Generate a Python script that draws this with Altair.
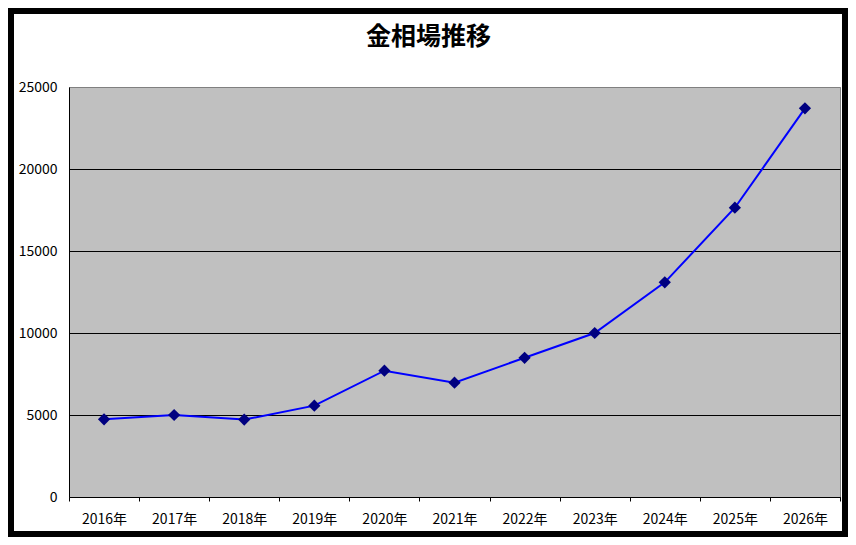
import altair as alt
import pandas as pd

years = ["2016年", "2017年", "2018年", "2019年", "2020年", "2021年",
         "2022年", "2023年", "2024年", "2025年", "2026年"]
prices = [4740, 5000, 4720, 5570, 7700, 6970, 8490, 10000, 13090, 17640, 23700]
y_ticks = [0, 5000, 10000, 15000, 20000, 25000]

df = pd.DataFrame({"year": years, "price": prices})

FONT = "Noto Sans CJK JP"

x_enc = alt.X(
    "year:N",
    sort=years,
    bandPosition=0.5,
    scale=alt.Scale(type="band", paddingInner=0, paddingOuter=0),
    axis=alt.Axis(
        title=None, labelAngle=0, tickBand="extent", ticks=True, tickSize=4,
        tickColor="black", domainColor="black", grid=False,
        labelFont=FONT, labelFontSize=14, labelColor="black", labelPadding=11,
    ),
)
y_enc = alt.Y(
    "price:Q",
    scale=alt.Scale(domain=[0, 25000], nice=False),
    axis=alt.Axis(
        title=None, values=y_ticks, format="d", ticks=False, domainColor="black",
        grid=True,
        gridColor=alt.condition("datum.value == 25000", alt.value("#808080"), alt.value("black")),
        gridWidth=1, labelFont=FONT, labelFontSize=14, labelColor="black",
        labelPadding=12,
    ),
)

base = alt.Chart(df)
line = base.mark_line(color="#0000FF", strokeWidth=2).encode(x=x_enc, y=y_enc)
pts = base.mark_point(shape="diamond", filled=True, size=150, color="#000080", opacity=1).encode(
    x=x_enc, y=y_enc
)

frame = alt.Chart(pd.DataFrame({"k": [0]})).mark_rect(
    fillOpacity=0, stroke="black", strokeWidth=6, clip=False
).encode(
    x=alt.value(-58), x2=alt.value(776), y=alt.value(-76), y2=alt.value(447)
)

chart = alt.layer(frame, line, pts).properties(
    width=771,
    height=410,
    title=alt.TitleParams(
        text="金相場推移", font=FONT, fontSize=25, fontWeight="bold", color="black",
        anchor="middle", frame="group", dx=-26, offset=-67, baseline="bottom",
    ),
    autosize=alt.AutoSizeParams(type="none"),
    padding={"left": 61, "top": 79, "right": 8, "bottom": 40},
    background="white",
).configure_view(
    fill="#C0C0C0", stroke="#808080", strokeWidth=1
)

chart.save("out.html", embed_options={"renderer": "svg", "actions": False})
